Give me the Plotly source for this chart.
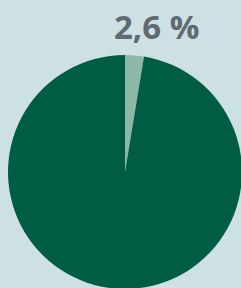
import plotly.graph_objects as go

labels = ["Anteil", "Rest"]
values = [2.6, 97.4]
colors = ["#8DB8A7", "#005C42"]
label_text = "2,6 %"

W, H = 242, 289
fig = go.Figure(go.Pie(
    labels=labels, values=values, sort=False, direction="clockwise", rotation=0,
    marker=dict(colors=colors, line=dict(width=0)),
    textinfo="none", hoverinfo="label+percent", showlegend=False,
    domain=dict(x=[8 / W, 1], y=[0, 234 / H]),
))
fig.add_annotation(
    text=f"<b>{label_text}</b>", x=156 / W, y=1 - 26 / H, xref="paper", yref="paper",
    showarrow=False, xanchor="center", yanchor="middle",
    font=dict(family="Open Sans", size=33, color="#5E6B72"),
)
fig.update_layout(
    width=W, height=H, margin=dict(l=0, r=0, t=0, b=0),
    paper_bgcolor="#CDE1E5", plot_bgcolor="#CDE1E5",
)
fig.write_html(
    "out.html",
    config={"displayModeBar": False},
    post_script=(
        "document.body.style.margin='0';"
        "document.body.style.overflow='hidden';"
        "document.documentElement.style.overflow='hidden';"
        "document.body.style.background='#CDE1E5';"
    ),
)
